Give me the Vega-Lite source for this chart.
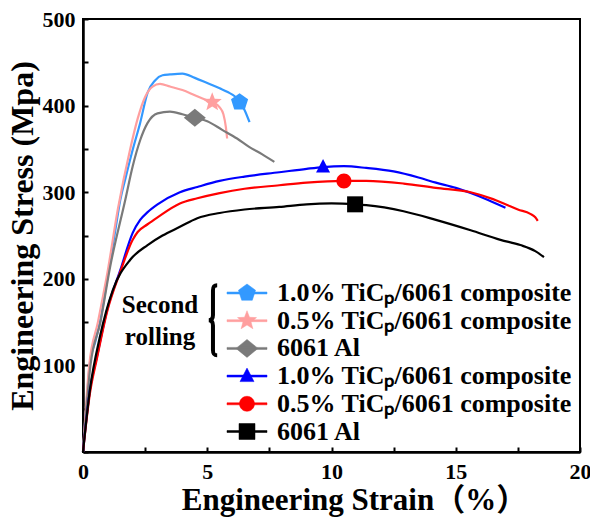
{
  "$schema": "https://vega.github.io/schema/vega-lite/v6.json",
  "width": 497,
  "height": 433,
  "autosize": {"type": "none"},
  "padding": {"left": 83, "top": 19, "right": 10, "bottom": 71},
  "background": "white",
  "config": {
    "view": {"stroke": "black", "strokeWidth": 2},
    "font": "'Liberation Serif', 'Noto Sans CJK SC', serif",
    "axis": {
      "grid": false,
      "domainColor": "black",
      "domainWidth": 2.5,
      "tickColor": "black",
      "tickWidth": 2,
      "tickSize": -5,
      "labelFont": "'Liberation Serif', 'Times New Roman', serif",
      "labelFontSize": 22,
      "labelFontWeight": "bold",
      "labelColor": "black",
      "titleFont": "'Liberation Serif', 'Noto Sans CJK SC', serif",
      "titleFontWeight": "bold",
      "titleColor": "black"
    }
  },
  "datasets": {
    "curves": [
      {"series": "sr10", "strain": 0, "stress": 0},
      {"series": "sr10", "strain": 0.1, "stress": 40},
      {"series": "sr10", "strain": 0.28, "stress": 103},
      {"series": "sr10", "strain": 0.5, "stress": 128},
      {"series": "sr10", "strain": 0.68, "stress": 149},
      {"series": "sr10", "strain": 1.0, "stress": 204},
      {"series": "sr10", "strain": 1.3, "stress": 256},
      {"series": "sr10", "strain": 1.5, "stress": 291},
      {"series": "sr10", "strain": 1.7, "stress": 315},
      {"series": "sr10", "strain": 2.0, "stress": 349},
      {"series": "sr10", "strain": 2.3, "stress": 380},
      {"series": "sr10", "strain": 2.6, "stress": 415},
      {"series": "sr10", "strain": 2.9, "stress": 429},
      {"series": "sr10", "strain": 3.2, "stress": 435},
      {"series": "sr10", "strain": 3.5, "stress": 436},
      {"series": "sr10", "strain": 4.0, "stress": 437},
      {"series": "sr10", "strain": 4.5, "stress": 432},
      {"series": "sr10", "strain": 5.0, "stress": 426},
      {"series": "sr10", "strain": 5.5, "stress": 420},
      {"series": "sr10", "strain": 5.8, "stress": 416},
      {"series": "sr10", "strain": 6.3, "stress": 405},
      {"series": "sr10", "strain": 6.5, "stress": 395},
      {"series": "sr10", "strain": 6.7, "stress": 381},

      {"series": "sr05", "strain": 0, "stress": 0},
      {"series": "sr05", "strain": 0.25, "stress": 100},
      {"series": "sr05", "strain": 0.6, "stress": 150},
      {"series": "sr05", "strain": 1.0, "stress": 210},
      {"series": "sr05", "strain": 1.4, "stress": 280},
      {"series": "sr05", "strain": 1.9, "stress": 350},
      {"series": "sr05", "strain": 2.2, "stress": 385},
      {"series": "sr05", "strain": 2.5, "stress": 410},
      {"series": "sr05", "strain": 2.8, "stress": 422},
      {"series": "sr05", "strain": 3.1, "stress": 425},
      {"series": "sr05", "strain": 3.5, "stress": 422},
      {"series": "sr05", "strain": 4.0, "stress": 418},
      {"series": "sr05", "strain": 4.5, "stress": 412},
      {"series": "sr05", "strain": 5.0, "stress": 406},
      {"series": "sr05", "strain": 5.2, "stress": 404},
      {"series": "sr05", "strain": 5.5, "stress": 398},
      {"series": "sr05", "strain": 5.65, "stress": 390},
      {"series": "sr05", "strain": 5.75, "stress": 375},
      {"series": "sr05", "strain": 5.8, "stress": 362},

      {"series": "sr6061", "strain": 0, "stress": 0},
      {"series": "sr6061", "strain": 0.3, "stress": 100},
      {"series": "sr6061", "strain": 0.7, "stress": 150},
      {"series": "sr6061", "strain": 1.1, "stress": 215},
      {"series": "sr6061", "strain": 1.7, "stress": 291},
      {"series": "sr6061", "strain": 2.0, "stress": 330},
      {"series": "sr6061", "strain": 2.3, "stress": 360},
      {"series": "sr6061", "strain": 2.6, "stress": 380},
      {"series": "sr6061", "strain": 3.0, "stress": 391},
      {"series": "sr6061", "strain": 3.5, "stress": 393},
      {"series": "sr6061", "strain": 4.0, "stress": 390},
      {"series": "sr6061", "strain": 4.5, "stress": 386},
      {"series": "sr6061", "strain": 5.0, "stress": 382},
      {"series": "sr6061", "strain": 5.6, "stress": 372},
      {"series": "sr6061", "strain": 6.2, "stress": 362},
      {"series": "sr6061", "strain": 6.7, "stress": 352},
      {"series": "sr6061", "strain": 7.2, "stress": 344},
      {"series": "sr6061", "strain": 7.7, "stress": 335},

      {"series": "r10", "strain": 0, "stress": 0},
      {"series": "r10", "strain": 0.28, "stress": 72},
      {"series": "r10", "strain": 0.56, "stress": 110},
      {"series": "r10", "strain": 0.97, "stress": 164},
      {"series": "r10", "strain": 1.5, "stress": 210},
      {"series": "r10", "strain": 2.0, "stress": 253},
      {"series": "r10", "strain": 2.3, "stress": 268},
      {"series": "r10", "strain": 2.6, "stress": 277},
      {"series": "r10", "strain": 3.0, "stress": 286},
      {"series": "r10", "strain": 3.9, "stress": 300},
      {"series": "r10", "strain": 4.6, "stress": 306},
      {"series": "r10", "strain": 5.5, "stress": 313},
      {"series": "r10", "strain": 6.5, "stress": 318},
      {"series": "r10", "strain": 7.9, "stress": 323},
      {"series": "r10", "strain": 9.0, "stress": 327},
      {"series": "r10", "strain": 9.66, "stress": 329},
      {"series": "r10", "strain": 10.5, "stress": 330},
      {"series": "r10", "strain": 11.4, "stress": 328},
      {"series": "r10", "strain": 12.5, "stress": 324},
      {"series": "r10", "strain": 13.5, "stress": 317},
      {"series": "r10", "strain": 14.2, "stress": 311},
      {"series": "r10", "strain": 15.0, "stress": 305},
      {"series": "r10", "strain": 15.6, "stress": 299},
      {"series": "r10", "strain": 16.3, "stress": 291},
      {"series": "r10", "strain": 17.0, "stress": 282},

      {"series": "r05", "strain": 0, "stress": 0},
      {"series": "r05", "strain": 0.28, "stress": 68},
      {"series": "r05", "strain": 0.56, "stress": 108},
      {"series": "r05", "strain": 0.97, "stress": 162},
      {"series": "r05", "strain": 1.5, "stress": 208},
      {"series": "r05", "strain": 2.0, "stress": 245},
      {"series": "r05", "strain": 2.2, "stress": 254},
      {"series": "r05", "strain": 2.6, "stress": 263},
      {"series": "r05", "strain": 3.0, "stress": 271},
      {"series": "r05", "strain": 3.9, "stress": 287},
      {"series": "r05", "strain": 4.6, "stress": 293},
      {"series": "r05", "strain": 5.5, "stress": 299},
      {"series": "r05", "strain": 6.5, "stress": 304},
      {"series": "r05", "strain": 7.9, "stress": 308},
      {"series": "r05", "strain": 9.0, "stress": 311},
      {"series": "r05", "strain": 10.5, "stress": 313},
      {"series": "r05", "strain": 11.4, "stress": 313},
      {"series": "r05", "strain": 12.9, "stress": 310},
      {"series": "r05", "strain": 14.2, "stress": 305},
      {"series": "r05", "strain": 15.6, "stress": 300},
      {"series": "r05", "strain": 16.5, "stress": 292},
      {"series": "r05", "strain": 17.0, "stress": 286},
      {"series": "r05", "strain": 17.5, "stress": 280},
      {"series": "r05", "strain": 18.0, "stress": 275},
      {"series": "r05", "strain": 18.2, "stress": 271},
      {"series": "r05", "strain": 18.3, "stress": 267},

      {"series": "al6061", "strain": 0, "stress": 0},
      {"series": "al6061", "strain": 0.28, "stress": 72},
      {"series": "al6061", "strain": 0.68, "stress": 133},
      {"series": "al6061", "strain": 1.2, "stress": 187},
      {"series": "al6061", "strain": 1.9, "stress": 222},
      {"series": "al6061", "strain": 2.6, "stress": 239},
      {"series": "al6061", "strain": 3.2, "stress": 250},
      {"series": "al6061", "strain": 3.9, "stress": 260},
      {"series": "al6061", "strain": 4.6, "stress": 270},
      {"series": "al6061", "strain": 5.5, "stress": 276},
      {"series": "al6061", "strain": 6.5, "stress": 280},
      {"series": "al6061", "strain": 7.9, "stress": 283},
      {"series": "al6061", "strain": 9.0, "stress": 286},
      {"series": "al6061", "strain": 10.0, "stress": 287},
      {"series": "al6061", "strain": 10.95, "stress": 286},
      {"series": "al6061", "strain": 11.4, "stress": 285},
      {"series": "al6061", "strain": 12.9, "stress": 278},
      {"series": "al6061", "strain": 14.2, "stress": 268},
      {"series": "al6061", "strain": 15.6, "stress": 256},
      {"series": "al6061", "strain": 16.8, "stress": 245},
      {"series": "al6061", "strain": 17.6, "stress": 239},
      {"series": "al6061", "strain": 18.2, "stress": 232},
      {"series": "al6061", "strain": 18.55, "stress": 225}
    ],
    "markers": [
      {"series": "sr10", "strain": 6.3, "stress": 404},
      {"series": "sr05", "strain": 5.2, "stress": 404},
      {"series": "sr6061", "strain": 4.5, "stress": 386},
      {"series": "r10", "strain": 9.66, "stress": 329},
      {"series": "r05", "strain": 10.5, "stress": 313},
      {"series": "al6061", "strain": 10.95, "stress": 286}
    ]
  },
  "layer": [
    {
      "data": {"name": "curves"},
      "mark": {"type": "line", "strokeWidth": 2.2, "interpolate": "monotone"},
      "encoding": {
        "x": {
          "field": "strain", "type": "quantitative",
          "scale": {"domain": [0, 20], "nice": false},
          "axis": {
            "title": "Engineering Strain（%）",
            "titleFontSize": 31,
            "titlePadding": 3,
            "titleX": 271,
            "values": [0, 2.5, 5, 7.5, 10, 12.5, 15, 17.5, 20],
            "labelExpr": "datum.value % 5 == 0 ? datum.label : ''",
            "labelPadding": 14,
            "labelFlush": false
          }
        },
        "y": {
          "field": "stress", "type": "quantitative",
          "scale": {"domain": [0, 500], "nice": false},
          "axis": {
            "title": "Engineering Stress (Mpa)",
            "titleFontSize": 32,
            "titlePadding": 3,
            "values": [0, 50, 100, 150, 200, 250, 300, 350, 400, 450, 500],
            "labelExpr": "datum.value % 100 == 0 && datum.value > 0 ? datum.label : ''",
            "labelPadding": 13,
            "labelFlush": false
          }
        },
        "detail": {"field": "series"},
        "color": {
          "field": "series", "type": "nominal",
          "scale": {
            "domain": ["sr10", "sr05", "sr6061", "r10", "r05", "al6061"],
            "range": ["#3399ff", "#ff9f9f", "#7a7a7a", "#0000ff", "#ff0000", "#000000"]
          },
          "legend": {
            "orient": "none",
            "legendX": 151,
            "legendY": 261,
            "title": null,
            "padding": 0,
            "symbolSize": 100,
            "symbolStrokeWidth": 2,
            "rowPadding": 1.7,
            "labelOffset": 17,
            "labelLimit": 500,
            "labelFont": "'Liberation Serif', 'Times New Roman', serif",
            "labelFontSize": 26,
            "labelFontWeight": "bold",
            "labelColor": "black",
            "labelExpr": "{'sr10': '1.0% TiCₚ/6061 composite', 'sr05': '0.5% TiCₚ/6061 composite', 'sr6061': '6061 Al', 'r10': '1.0% TiCₚ/6061 composite', 'r05': '0.5% TiCₚ/6061 composite', 'al6061': '6061 Al'}[datum.value]",
            "encode": {
              "symbols": {
                "update": {
                  "shape": {"signal": "{'sr10': 'M-4,-0.2L4,-0.2L4,0.2L-4,0.2ZM0,-1.8L1.712,-0.556L1.058,1.456L-1.058,1.456L-1.712,-0.556Z', 'sr05': 'M-4,-0.2L4,-0.2L4,0.2L-4,0.2ZM0,-2L0.5,-0.688L1.902,-0.618L0.808,0.263L1.176,1.618L0,0.85L-1.176,1.618L-0.808,0.263L-1.902,-0.618L-0.5,-0.688Z', 'sr6061': 'M-4,-0.2L4,-0.2L4,0.2L-4,0.2ZM0,-1.8L2.2,0L0,1.8L-2.2,0Z', 'r10': 'M-4,-0.2L4,-0.2L4,0.2L-4,0.2ZM0,-1.6L1.4,1.1L-1.4,1.1Z', 'r05': 'M-4,-0.2L4,-0.2L4,0.2L-4,0.2ZM-1.5,0A1.5,1.5 0 1,1 1.5,0A1.5,1.5 0 1,1 -1.5,0Z', 'al6061': 'M-4,-0.2L4,-0.2L4,0.2L-4,0.2ZM-1.6,-1.6L1.6,-1.6L1.6,1.6L-1.6,1.6Z'}[datum.value]"},
                  "fill": {"signal": "scale('color', datum.value)"},
                  "stroke": {"signal": "scale('color', datum.value)"},
                  "strokeWidth": {"value": 0.5},
                  "fillOpacity": {"value": 1},
                  "strokeOpacity": {"value": 1},
                  "opacity": {"value": 1}
                }
              }
            }
          }
        }
      }
    },
    {
      "data": {"name": "markers"},
      "transform": [{"filter": "datum.series == 'sr10'"}],
      "mark": {"type": "point", "filled": true, "size": 100, "opacity": 1, "shape": "M0,-1.8L1.712,-0.556L1.058,1.456L-1.058,1.456L-1.712,-0.556Z"},
      "encoding": {
        "x": {"field": "strain", "type": "quantitative"},
        "y": {"field": "stress", "type": "quantitative"},
        "color": {"field": "series", "type": "nominal"}
      }
    },
    {
      "data": {"name": "markers"},
      "transform": [{"filter": "datum.series == 'sr05'"}],
      "mark": {"type": "point", "filled": true, "size": 100, "opacity": 1, "shape": "M0,-2L0.5,-0.688L1.902,-0.618L0.808,0.263L1.176,1.618L0,0.85L-1.176,1.618L-0.808,0.263L-1.902,-0.618L-0.5,-0.688Z"},
      "encoding": {
        "x": {"field": "strain", "type": "quantitative"},
        "y": {"field": "stress", "type": "quantitative"},
        "color": {"field": "series", "type": "nominal"}
      }
    },
    {
      "data": {"name": "markers"},
      "transform": [{"filter": "datum.series == 'sr6061'"}],
      "mark": {"type": "point", "filled": true, "size": 100, "opacity": 1, "shape": "M0,-1.8L2.2,0L0,1.8L-2.2,0Z"},
      "encoding": {
        "x": {"field": "strain", "type": "quantitative"},
        "y": {"field": "stress", "type": "quantitative"},
        "color": {"field": "series", "type": "nominal"}
      }
    },
    {
      "data": {"name": "markers"},
      "transform": [{"filter": "datum.series == 'r10'"}],
      "mark": {"type": "point", "filled": true, "size": 100, "opacity": 1, "shape": "M0,-1.6L1.4,1.1L-1.4,1.1Z"},
      "encoding": {
        "x": {"field": "strain", "type": "quantitative"},
        "y": {"field": "stress", "type": "quantitative"},
        "color": {"field": "series", "type": "nominal"}
      }
    },
    {
      "data": {"name": "markers"},
      "transform": [{"filter": "datum.series == 'r05'"}],
      "mark": {"type": "point", "filled": true, "size": 100, "opacity": 1, "shape": "M-1.5,0A1.5,1.5 0 1,1 1.5,0A1.5,1.5 0 1,1 -1.5,0Z"},
      "encoding": {
        "x": {"field": "strain", "type": "quantitative"},
        "y": {"field": "stress", "type": "quantitative"},
        "color": {"field": "series", "type": "nominal"}
      }
    },
    {
      "data": {"name": "markers"},
      "transform": [{"filter": "datum.series == 'al6061'"}],
      "mark": {"type": "point", "filled": true, "size": 100, "opacity": 1, "shape": "M-1.6,-1.6L1.6,-1.6L1.6,1.6L-1.6,1.6Z"},
      "encoding": {
        "x": {"field": "strain", "type": "quantitative"},
        "y": {"field": "stress", "type": "quantitative"},
        "color": {"field": "series", "type": "nominal"}
      }
    },
    {
      "data": {"values": [{}]},
      "mark": {
        "type": "point",
        "shape": "M0.12,-1C0.02,-1 0,-0.95 0,-0.85L0,-0.15C0,-0.05 -0.05,0 -0.12,0C-0.05,0 0,0.05 0,0.15L0,0.85C0,0.95 0.02,1 0.12,1",
        "size": 4900,
        "filled": false,
        "stroke": "black",
        "strokeWidth": 4,
        "opacity": 1
      },
      "encoding": {
        "x": {"datum": 5.23},
        "y": {"datum": 152}
      }
    },
    {
      "data": {"values": [{}]},
      "mark": {
        "type": "text",
        "text": ["Second", "rolling"],
        "font": "'Liberation Serif', 'Times New Roman', serif",
        "fontSize": 25,
        "fontWeight": "bold",
        "lineHeight": 32,
        "align": "center",
        "baseline": "middle",
        "color": "black"
      },
      "encoding": {
        "x": {"datum": 3.1},
        "y": {"datum": 170}
      }
    }
  ]
}
